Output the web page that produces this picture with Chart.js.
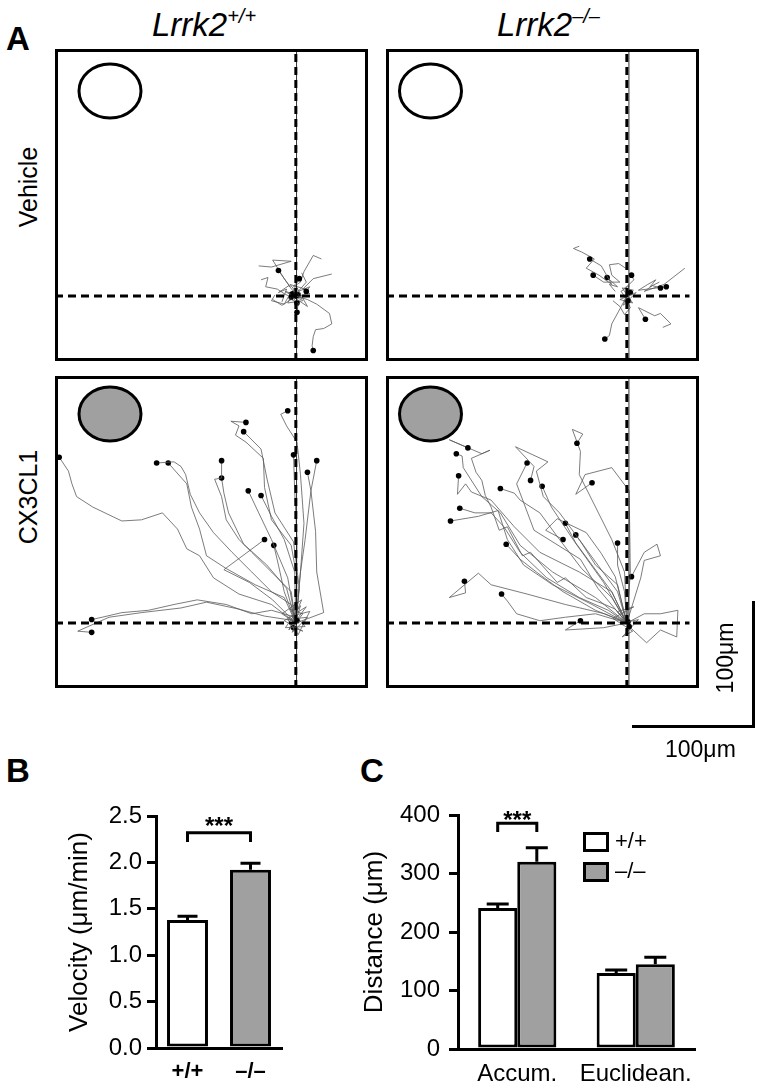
<!DOCTYPE html>
<html>
<head>
<meta charset="utf-8">
<script src="https://cdn.jsdelivr.net/npm/chart.js"></script>
<style>
  body { margin:0; background:#fff; width:760px; height:1083px; position:relative; overflow:hidden;
         font-family:'Liberation Sans', Arial, sans-serif; color:#000; }
  canvas { position:absolute; }
  .lab { position:absolute; font-weight:bold; font-size:33px; line-height:1; }
  .title { position:absolute; font-style:italic; font-size:33px; line-height:1; white-space:nowrap; }
  .title sup { font-size:20px; vertical-align:0; position:relative; top:-13px; }
  .row { position:absolute; font-size:25px; line-height:1; white-space:nowrap;
         transform:translate(-50%,-50%) rotate(-90deg); }
  .scalebar { position:absolute; left:632px; top:601px; width:120px; height:124px;
              border-right:3px solid #000; border-bottom:3px solid #000; }
  .sbtext { position:absolute; font-size:23px; line-height:1; white-space:nowrap; }
</style>
</head>
<body>

<div class="lab" style="left:6px;top:22px">A</div>
<div class="lab" style="left:6px;top:754px">B</div>
<div class="lab" style="left:360px;top:754px">C</div>

<div class="title" style="left:152px;top:8px">Lrrk2<sup>+/+</sup></div>
<div class="title" style="left:497px;top:8px">Lrrk2<sup>&#8211;/&#8211;</sup></div>

<div class="row" style="left:28px;top:187px">Vehicle</div>
<div class="row" style="left:28px;top:497px">CX3CL1</div>

<canvas id="vehWT" width="321" height="320" style="left:51px;top:45px"></canvas>
<canvas id="vehKO" width="321" height="320" style="left:382px;top:45px"></canvas>
<canvas id="cxWT" width="321" height="320" style="left:51px;top:372px"></canvas>
<canvas id="cxKO" width="321" height="320" style="left:382px;top:372px"></canvas>

<div class="scalebar"></div>
<div class="sbtext" style="left:725px;top:658px;transform:translate(-50%,-50%) rotate(-90deg)">100&mu;m</div>
<div class="sbtext" style="left:665px;top:738px">100&mu;m</div>

<canvas id="velChart" width="300" height="293" style="left:0px;top:790px"></canvas>
<canvas id="distChart" width="430" height="293" style="left:330px;top:790px"></canvas>

<script>
// migration tracks, micrometres from start point (x right, y towards the source); last point = end position
const vehicleWT = [
  [[-32,26],[-21,25],[-4,30],[-20,31],[-10,15],[-5,8],[-15,22]],
  [[22,32],[15,35],[7,21],[4,12],[-2,8],[3,15]],
  [[31,19],[15,15],[6,6],[12,2],[9,4]],
  [[0,0],[10,-3],[18,-7],[29,-15],[31,-24],[24,-28],[17,-29],[15,-35],[14,-43],[15,-47]],
  [[-20,-3],[-12,-8],[-4,-3],[2,-6],[1,-14]],
  [[-18,1],[-21,-4],[-10,-7],[-5,2],[1,-6]],
  [[-12,-5],[-8,6],[-15,3],[-6,9],[-2,4],[0,0]],
  [[8,6],[-5,10],[6,-4],[-7,-6],[0,9],[10,-9],[-9,4],[-3,2]],
  [[-30,14],[-24,16],[-26,8],[-16,6],[-10,2],[-4,-1]],
  [[5,20],[9,12],[2,4],[12,8],[4,-3],[-6,3],[2,1]]
];
const vehicleKO = [
  [[-41,43],[-46,41],[-39,38],[-28,32],[-35,24],[-24,18],[-13,10],[-22,26],[-32,32]],
  [[-1,24],[-7,28],[-15,27],[-13,18],[-6,12],[-20,12],[-29,18]],
  [[-10,4],[-15,10],[-8,8],[-17,16]],
  [[50,24],[32,10],[15,4],[22,9],[29,7]],
  [[28,12],[20,8],[25,14],[18,10],[10,5],[34,8]],
  [[31,-27],[38,-24],[29,-15],[24,-17],[10,-10],[16,-20]],
  [[0,0],[-7,-13],[-13,-24],[-15,-34],[-19,-37]],
  [[-3,6],[2,10],[6,14],[4,18]],
  [[6,5],[-4,7],[5,-6],[-6,-3],[8,3],[-3,-8],[2,9],[-5,4],[1,-4]],
  [[-12,-4],[-6,-9],[-2,-16],[3,-10],[-1,-2],[3,3]]
];
const cx3WT = [
  [[0,0],[0,5],[-21,11],[-38,8],[-60,16],[-85,20],[-105,16],[-127,11],[-150,9],[-167,5],[-176,3]],
  [[0,0],[-1,2],[-27,6],[-49,12],[-77,18],[-99,13],[-133,9],[-161,5],[-188,-7],[-176,-8]],
  [[0,0],[-21,16],[-49,25],[-71,39],[-83,58],[-94,64],[-102,81],[-115,95],[-133,89],[-150,88],[-175,100],[-189,109],[-193,120],[-196,131],[-204,143]],
  [[0,0],[-4,16],[-21,27],[-38,44],[-55,61],[-71,78],[-83,95],[-91,111],[-95,128],[-99,135],[-105,139],[-120,138]],
  [[0,0],[-10,22],[-35,33],[-60,47],[-77,58],[-83,81],[-90,100],[-94,120],[-110,138]],
  [[0,0],[-4,27],[-21,44],[-38,61],[-49,72],[-60,89],[-64,109],[-70,124],[-64,125],[-64,134],[-64,140]],
  [[0,0],[-8,30],[-25,50],[-45,68],[-58,95],[-62,112],[-64,125]],
  [[0,0],[-7,39],[-21,72],[-32,95],[-41,114]],
  [[0,0],[-1,44],[-10,72],[-21,92],[-30,110]],
  [[0,0],[1,39],[-4,67],[-21,89],[-27,117],[-28,142],[-43,156],[-52,162],[-49,170],[-56,174],[-43,173]],
  [[0,0],[3,30],[-2,70],[-18,95],[-25,125],[-30,150],[-45,165]],
  [[0,0],[4,44],[7,86],[4,128],[1,156],[-8,170],[-13,180],[-7,183]],
  [[0,0],[1,72],[-1,114],[-2,145]],
  [[0,0],[4,44],[8,72],[13,114],[18,140]],
  [[0,0],[-10,27],[-15,50],[-19,67]],
  [[0,0],[24,9],[18,44],[17,79],[13,114],[10,130]],
  [[0,0],[-20,20],[-40,35],[-62,46],[-27,72]],
  [[0,0],[6,8],[-5,12],[8,-3],[-9,-4],[4,15],[-3,-8],[10,5],[-7,3],[2,-10],[12,10],[-4,6],[1,2]],
  [[0,0],[-12,8],[5,20],[-6,-6],[9,14],[-10,2],[6,-7],[-2,-4]]
];
const cx3KO = [
  [[0,0],[-10,12],[-19,16],[-35,22],[-53,39],[-60,35],[-83,61],[-90,58],[-103,83],[-110,80],[-117,100],[-122,110],[-125,123],[-130,130],[-134,142],[-118,149],[-125,146],[-153,158],[-137,151]],
  [[0,0],[-27,22],[-64,44],[-92,67],[-109,95],[-125,109],[-141,134],[-142,144],[-147,146]],
  [[0,0],[-13,27],[-41,44],[-75,61],[-97,83],[-117,106],[-134,113],[-139,120],[-146,111],[-145,127]],
  [[0,0],[-16,11],[-41,22],[-69,39],[-92,61],[-106,83],[-117,95],[-131,95],[-144,99]],
  [[0,0],[-30,16],[-64,33],[-89,50],[-103,72],[-111,97],[-128,92],[-152,88]],
  [[0,0],[-13,22],[-39,47],[-58,72],[-75,95],[-92,106],[-97,112],[-109,116]],
  [[0,0],[-8,27],[-25,50],[-41,72],[-58,95],[-72,109],[-78,131],[-68,139],[-96,152],[-80,135],[-83,123]],
  [[0,0],[-20,35],[-45,70],[-65,100],[-73,118]],
  [[0,0],[-2,44],[-13,72],[-30,106],[-41,128],[-40,148],[-47,167],[-38,163],[-43,155]],
  [[0,0],[3,44],[2,114],[-13,134],[-36,128],[-44,111],[-30,121]],
  [[0,0],[-13,27],[-30,50],[-44,69],[-53,86]],
  [[0,0],[-8,33],[-27,50],[-39,69],[-44,76]],
  [[0,0],[-2,27],[-8,50],[-8,69]],
  [[0,0],[-27,11],[-55,27],[-78,44],[-92,55],[-104,68]],
  [[0,0],[-19,8],[-53,16],[-86,25],[-117,33],[-128,43],[-153,22],[-139,26],[-140,36]],
  [[0,0],[-27,8],[-53,5],[-75,2],[-95,8],[-103,19],[-108,25]],
  [[0,0],[15,8],[29,8],[44,11],[43,-12],[29,-6],[17,-17],[2,-3]],
  [[0,0],[12,39],[15,54],[29,58],[26,68],[15,61],[4,40]],
  [[0,0],[-20,-4],[-53,-6],[-40,2]],
  [[0,0],[-8,10],[6,14],[-12,4],[5,-7],[-4,-12],[10,3],[1,1]],
  [[0,0],[-10,40],[-22,60],[-35,78],[-60,90],[-70,80],[-55,72]],
  [[0,0],[-25,30],[-40,55],[-80,80],[-95,120],[-86,138]]
];

// panel B
const velCats = ['+/+', '\u2013/\u2013'];
const velMean = [1.38, 1.92];
const velSem = [0.04, 0.07];

// panel C
const distCats = ['Accum.', 'Euclidean.'];
const distWT = [241, 130];
const distWTsem = [7, 5];
const distKO = [320, 145];
const distKOsem = [24, 12];

const GREY = '#a0a0a0';
Chart.defaults.font.family = "'Liberation Sans', Arial, sans-serif";
Chart.defaults.color = '#000';

// frame and source marker of each track panel
const panelDeco = {
  id: 'panelDeco',
  beforeDatasetsDraw(chart, args, o) {
    const c = chart.ctx, a = chart.chartArea;
    c.save();
    c.lineWidth = 3;
    c.strokeStyle = '#000';
    c.beginPath();
    c.ellipse(a.left + o.cx, a.top + o.cy, 31, 27, 0, 0, Math.PI * 2);
    c.fillStyle = o.fill;
    c.fill();
    c.stroke();
    c.restore();
  },
  afterDraw(chart) {
    const c = chart.ctx, a = chart.chartArea;
    c.save();
    c.lineWidth = 3;
    c.strokeStyle = '#000';
    c.strokeRect(a.left + 1.5, a.top + 1.5, a.right - a.left - 3, a.bottom - a.top - 3);
    c.restore();
  }
};

function trackChart(id, tracks, fill, cx, cy, thinX) {
  const sets = tracks.map(t => ({
    data: t.map(p => ({ x: p[0], y: p[1] })),
    showLine: true,
    borderColor: '#5a5a5a',
    borderWidth: 0.8,
    pointRadius: ctx => ctx.dataIndex === ctx.dataset.data.length - 1 ? 2.8 : 0,
    pointBackgroundColor: '#000',
    pointBorderWidth: 0,
    order: 2
  }));
  const dash = { showLine: true, borderColor: '#000', borderWidth: 3, borderDash: [8, 5],
                 pointRadius: 0, order: 0 };
  sets.push(Object.assign({ data: [{ x: 0, y: -56 }, { x: 0, y: 213 }] }, dash));
  sets.push(Object.assign({ data: [{ x: -207.6, y: 0 }, { x: 54, y: 0 }] }, dash));
  sets.push({ data: [{ x: thinX, y: -56 }, { x: thinX, y: 213 }], showLine: true,
              borderColor: '#000', borderWidth: 0.8, pointRadius: 0, order: 1 });
  new Chart(document.getElementById(id), {
    type: 'scatter',
    data: { datasets: sets },
    options: {
      responsive: false, animation: false, devicePixelRatio: 1,
      layout: { padding: 0 },
      scales: {
        x: { type: 'linear', min: -207.6, max: 62.2, display: false },
        y: { type: 'linear', min: -56, max: 213, display: false }
      },
      plugins: { legend: { display: false }, tooltip: { enabled: false },
                 panelDeco: { fill: fill, cx: cx, cy: cy } }
    },
    plugins: [panelDeco]
  });
}

trackChart('vehWT', vehicleWT, '#fff', 55, 42, 0.6);
trackChart('vehKO', vehicleKO, '#fff', 44.5, 42, 1.8);
trackChart('cxWT', cx3WT, GREY, 55, 38, 0.6);
trackChart('cxKO', cx3KO, GREY, 44.5, 38, 1.8);

// error bars, significance bracket and legend boxes
const barExtras = {
  id: 'barExtras',
  afterDatasetsDraw(chart, args, o) {
    const c = chart.ctx, ys = chart.scales.y;
    c.save();
    c.strokeStyle = '#000';
    c.lineWidth = 3;
    c.lineCap = 'butt';
    chart.data.datasets.forEach((ds, di) => {
      const meta = chart.getDatasetMeta(di);
      meta.data.forEach((bar, i) => {
        const top = ys.getPixelForValue(ds.data[i]);
        const e = ys.getPixelForValue(ds.data[i] + o.errors[di][i]);
        c.beginPath();
        c.moveTo(bar.x, top);
        c.lineTo(bar.x, e);
        c.moveTo(bar.x - o.cap, e);
        c.lineTo(bar.x + o.cap, e);
        c.stroke();
      });
    });
    const b = o.bracket;
    const x1 = chart.getDatasetMeta(b.from[0]).data[b.from[1]].x;
    const x2 = chart.getDatasetMeta(b.to[0]).data[b.to[1]].x;
    const yt = ys.getPixelForValue(b.y), yl = ys.getPixelForValue(b.leg);
    c.beginPath();
    c.moveTo(x1, yl); c.lineTo(x1, yt); c.lineTo(x2, yt); c.lineTo(x2, yl);
    c.stroke();
    c.fillStyle = '#000';
    c.font = 'bold 24px "Liberation Sans", Arial, sans-serif';
    c.textAlign = 'center';
    c.textBaseline = 'middle';
    c.fillText('***', (x1 + x2) / 2, ys.getPixelForValue(b.labelY) + 5);
    if (o.legend) {
      const a = chart.chartArea;
      chart.data.datasets.forEach((ds, di) => {
        const lx = a.left + o.legend.x, ly = a.top + o.legend.y + di * o.legend.step;
        c.fillStyle = ds.backgroundColor;
        c.fillRect(lx, ly, 26, 20);
        c.strokeRect(lx + 1.5, ly + 1.5, 23, 17);
        c.fillStyle = '#000';
        c.font = '22px "Liberation Sans", Arial, sans-serif';
        c.textAlign = 'left';
        c.fillText(ds.label, lx + 32, ly + 10);
      });
    }
    c.restore();
  }
};

function axisY(width, min, max, step, pad, title, cb) {
  return {
    min: min, max: max,
    afterFit: s => { s.width = width; },
    title: { display: true, text: title, font: { size: 26 }, padding: { top: 3, bottom: 4 } },
    ticks: { stepSize: step, padding: pad, font: { size: 24 }, callback: cb },
    grid: { drawOnChartArea: false, tickLength: 9, color: '#000', lineWidth: 3 },
    border: { display: true, color: '#000', width: 3 }
  };
}

new Chart(document.getElementById('velChart'), {
  type: 'bar',
  data: {
    labels: velCats,
    datasets: [{
      label: 'velocity', data: velMean,
      backgroundColor: ['#fff', GREY], borderColor: '#000', borderWidth: 3, borderSkipped: false,
      barPercentage: 0.65, categoryPercentage: 1
    }]
  },
  options: {
    responsive: false, animation: false, devicePixelRatio: 1,
    layout: { padding: { top: 26, right: 18, left: 61, bottom: 0 } },
    scales: {
      x: {
        afterFit: s => { s.height = 35; },
        ticks: { padding: 3, maxRotation: 0, minRotation: 0, autoSkip: false,
                 font: { size: 22, weight: 'bold' } },
        grid: { display: false },
        border: { display: true, color: '#000', width: 3 }
      },
      y: axisY(95, 0, 2.5, 0.5, 5, 'Velocity (\u03bcm/min)', v => v.toFixed(1))
    },
    plugins: {
      legend: { display: false }, tooltip: { enabled: false },
      barExtras: { errors: [velSem], cap: 10,
                   bracket: { from: [0, 0], to: [0, 1], y: 2.32, leg: 2.22, labelY: 2.43 } }
    }
  },
  plugins: [barExtras]
});

new Chart(document.getElementById('distChart'), {
  type: 'bar',
  data: {
    labels: distCats,
    datasets: [
      { label: '+/+', data: distWT, backgroundColor: '#fff', borderColor: '#000', borderWidth: 3,
        borderSkipped: false, barPercentage: 1, categoryPercentage: 0.66 },
      { label: '\u2013/\u2013', data: distKO, backgroundColor: GREY, borderColor: '#000', borderWidth: 3,
        borderSkipped: false, barPercentage: 1, categoryPercentage: 0.66 }
    ]
  },
  options: {
    responsive: false, animation: false, devicePixelRatio: 1,
    layout: { padding: { top: 25, right: 65, left: 26, bottom: 0 } },
    scales: {
      x: {
        afterFit: s => { s.height = 34; },
        ticks: { padding: 3, maxRotation: 0, minRotation: 0, autoSkip: false,
                 font: { size: 24 } },
        grid: { display: false },
        border: { display: true, color: '#000', width: 3 }
      },
      y: axisY(102, 0, 400, 50, 9, 'Distance (\u03bcm)', v => v % 100 === 0 ? v : '')
    },
    plugins: {
      legend: { display: false }, tooltip: { enabled: false },
      barExtras: { errors: [distWTsem, distKOsem], cap: 11,
                   bracket: { from: [0, 0], to: [1, 0], y: 386, leg: 371, labelY: 397 },
                   legend: { x: 125, y: 17, step: 30 } }
    }
  },
  plugins: [barExtras]
});
</script>
</body>
</html>
